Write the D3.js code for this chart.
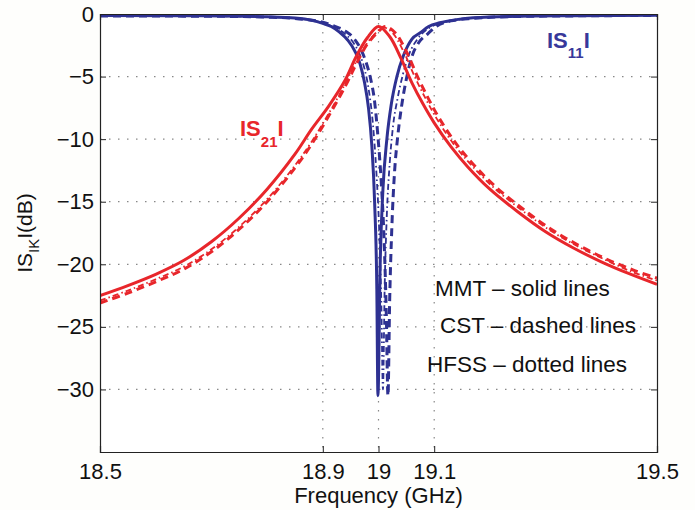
<!DOCTYPE html>
<html>
<head>
<meta charset="utf-8">
<script src="https://cdn.jsdelivr.net/npm/d3@7"></script>
<style>
body { margin: 0; background: #fefefc; }
svg text { font-family: "Liberation Sans", Arial, Helvetica, sans-serif; fill: #111; }
</style>
</head>
<body>
<div class="chart"></div>
<script>
// tick values
const xTicks = [18.5, 18.9, 19, 19.1, 19.5];
const yTicks = [0, -5, -10, -15, -20, -25, -30];

// |S21| curves (GHz, dB)
const s21MmtF = [18.5, 18.55, 18.6, 18.65, 18.7, 18.75, 18.8, 18.85, 18.88, 18.91, 18.94, 18.96, 18.98, 19.0, 19.02, 19.04, 19.06, 19.08, 19.1, 19.13, 19.16, 19.2, 19.25, 19.3, 19.35, 19.4, 19.45, 19.5];
const s21MmtDb = [-22.5, -21.7, -20.8, -19.7, -18.2, -16.3, -14.0, -11.2, -9.2, -7.4, -5.3, -3.4, -1.9, -1.0, -1.8, -3.5, -5.5, -7.2, -8.7, -10.6, -12.2, -14.0, -15.8, -17.4, -18.7, -19.8, -20.75, -21.6];

const s21CstF = [18.5, 18.55, 18.6, 18.65, 18.7, 18.75, 18.8, 18.85, 18.88, 18.91, 18.94, 18.96, 18.98, 19.0, 19.012, 19.03, 19.05, 19.07, 19.09, 19.11, 19.14, 19.17, 19.21, 19.26, 19.31, 19.36, 19.41, 19.46, 19.5];
const s21CstDb = [-23.1, -22.3, -21.4, -20.4, -19.0, -17.2, -15.0, -12.3, -10.4, -8.2, -5.8, -4.0, -2.4, -1.4, -1.0, -1.5, -3.0, -5.0, -6.8, -8.4, -10.4, -12.0, -13.8, -15.6, -17.2, -18.5, -19.6, -20.5, -21.1];

const s21HfssF = [18.5, 18.55, 18.6, 18.65, 18.7, 18.75, 18.8, 18.85, 18.88, 18.91, 18.94, 18.96, 18.98, 19.0, 19.008, 19.025, 19.045, 19.065, 19.085, 19.105, 19.135, 19.165, 19.205, 19.255, 19.305, 19.355, 19.405, 19.455, 19.5];
const s21HfssDb = [-22.9, -22.1, -21.2, -20.2, -18.8, -17.0, -14.8, -12.1, -10.2, -8.0, -5.6, -3.8, -2.3, -1.3, -1.05, -1.5, -3.0, -5.0, -6.8, -8.4, -10.4, -12.0, -13.8, -15.6, -17.2, -18.5, -19.6, -20.6, -21.3];

// |S11| curves (GHz, dB)
const s11MmtF = [18.5, 18.65, 18.75, 18.8, 18.85, 18.88, 18.9, 18.915, 18.93, 18.945, 18.958, 18.967, 18.975, 18.982, 18.988, 18.993, 18.997, 18.999, 19.003, 19.008, 19.015, 19.023, 19.033, 19.045, 19.06, 19.075, 19.09, 19.11, 19.14, 19.17, 19.25, 19.35, 19.5];
const s11MmtDb = [-0.12, -0.14, -0.18, -0.22, -0.32, -0.5, -0.75, -1.0, -1.45, -2.1, -3.0, -4.0, -5.5, -7.5, -10.5, -15, -22, -30.5, -20, -14, -10, -7.2, -5, -3.3, -2.0, -1.5, -1.0, -0.7, -0.45, -0.3, -0.18, -0.13, -0.1];

const s11CstF = [18.5, 18.65, 18.75, 18.8, 18.85, 18.88, 18.9, 18.92, 18.94, 18.955, 18.968, 18.978, 18.986, 18.993, 18.999, 19.005, 19.01, 19.014, 19.017, 19.02, 19.024, 19.029, 19.034, 19.041, 19.05, 19.06, 19.072, 19.088, 19.105, 19.13, 19.17, 19.25, 19.35, 19.5];
const s11CstDb = [-0.15, -0.17, -0.2, -0.25, -0.35, -0.5, -0.65, -0.95, -1.35, -1.9, -2.8, -3.9, -5.2, -7, -9.8, -13.5, -18, -24, -30.5, -23, -17, -12.5, -10, -7.5, -5.2, -3.4, -2.3, -1.6, -0.95, -0.55, -0.35, -0.2, -0.15, -0.12];

const s11HfssF = [18.5, 18.65, 18.75, 18.8, 18.85, 18.88, 18.9, 18.92, 18.94, 18.955, 18.966, 18.975, 18.983, 18.99, 18.996, 19.001, 19.005, 19.008, 19.011, 19.015, 19.02, 19.026, 19.034, 19.044, 19.056, 19.07, 19.085, 19.1, 19.13, 19.17, 19.25, 19.35, 19.5];
const s11HfssDb = [-0.14, -0.16, -0.19, -0.24, -0.33, -0.5, -0.7, -1.05, -1.6, -2.3, -3.2, -4.4, -6.2, -8.8, -12.5, -17, -23, -30, -22, -16, -12, -9, -6.8, -4.8, -3.1, -2.0, -1.3, -0.9, -0.55, -0.33, -0.19, -0.14, -0.11];

const red = '#e8262b';
const blue = '#2e3192';

const margin = {top: 14, right: 38, bottom: 58, left: 100};
const width = 695 - margin.left - margin.right;
const height = 510 - margin.top - margin.bottom;

let svg = d3.select('.chart')
    .append('svg')
        .attr('width', 695)
        .attr('height', 510)
    .append('g')
        .attr('transform', 'translate(' + margin.left + ',' + margin.top + ')');

let xScale = d3.scaleLinear().domain([18.5, 19.5]).range([0, width]);
let yScale = d3.scaleLinear().domain([-35, 0]).range([height, 0]);

svg.append('rect')
    .attr('width', width)
    .attr('height', height)
    .attr('fill', '#fff');

// dotted grid
svg.append('g')
    .selectAll('line')
    .data(xTicks.slice(1, -1))
    .join('line')
    .attr('x1', d => xScale(d)).attr('x2', d => xScale(d))
    .attr('y1', 0).attr('y2', height)
    .attr('stroke', '#888').attr('stroke-width', 1.2)
    .attr('stroke-dasharray', '1.5,7.5');

svg.append('g')
    .selectAll('line')
    .data(yTicks.slice(1))
    .join('line')
    .attr('x1', 0).attr('x2', width)
    .attr('y1', d => yScale(d)).attr('y2', d => yScale(d))
    .attr('stroke', '#888').attr('stroke-width', 1.2)
    .attr('stroke-dasharray', '1.5,7.5');

svg.append('clipPath').attr('id', 'clip')
    .append('rect').attr('width', width).attr('height', height);

let sharpLine = d3.line()
    .x(d => xScale(d[0]))
    .y(d => yScale(d[1]))
    .curve(d3.curveMonotoneX);

let smoothLine = d3.line()
    .x(d => xScale(d[0]))
    .y(d => yScale(d[1]))
    .curve(d3.curveCatmullRom.alpha(0.5));

const series = [
    {f: s11HfssF, db: s11HfssDb, color: blue, dash: '6,3,1.5,3', w: 1.8, line: sharpLine},
    {f: s11CstF, db: s11CstDb, color: blue, dash: '8,5', w: 3, line: sharpLine},
    {f: s11MmtF, db: s11MmtDb, color: blue, dash: null, w: 3, line: sharpLine},
    {f: s21HfssF, db: s21HfssDb, color: red, dash: '6,3,1.5,3', w: 1.8, line: smoothLine},
    {f: s21CstF, db: s21CstDb, color: red, dash: '8,5', w: 3, line: smoothLine},
    {f: s21MmtF, db: s21MmtDb, color: red, dash: null, w: 3, line: smoothLine}
];

let plot = svg.append('g').attr('clip-path', 'url(#clip)');
series.forEach(s => {
    plot.append('path')
        .datum(s.f.map((f, i) => [f, s.db[i]]))
        .attr('fill', 'none')
        .attr('stroke', s.color)
        .attr('stroke-width', s.w)
        .attr('stroke-dasharray', s.dash)
        .attr('d', s.line);
});

// axes, ticks pointing in
let xAxis = g => g
    .attr('transform', `translate(0, ${height})`)
    .call(d3.axisBottom(xScale).tickValues(xTicks).tickFormat(d => d).tickSize(-6).tickPadding(11));

let yAxis = g => g
    .call(d3.axisLeft(yScale).tickValues(yTicks).tickFormat(d => d < 0 ? '\u2212' + (-d) : d).tickSize(-6).tickPadding(6));

svg.append('g').call(xAxis);
svg.append('g').call(yAxis);
svg.append('g').call(d3.axisTop(xScale).tickValues(xTicks).tickFormat('').tickSize(-6));
svg.append('g').attr('transform', `translate(${width},0)`)
    .call(d3.axisRight(yScale).tickValues(yTicks).tickFormat('').tickSize(-6));

svg.selectAll('.domain').attr('stroke', '#222').attr('stroke-width', 1.2);
svg.selectAll('.tick line').attr('stroke', '#222');
svg.selectAll('.tick text').attr('font-size', 22).attr('fill', '#111')
    .style('font-family', '"Liberation Sans", Arial, sans-serif');

// axis titles
svg.append('text')
    .attr('x', xScale(19)).attr('y', height + 51)
    .attr('text-anchor', 'middle').attr('font-size', 22)
    .text('Frequency (GHz)');

let yt = svg.append('text')
    .attr('transform', `translate(${32 - margin.left}, ${height / 2}) rotate(-90)`)
    .attr('text-anchor', 'middle').attr('font-size', 21);
yt.append('tspan').text('IS');
yt.append('tspan').attr('font-size', 15).attr('dy', 7).text('IK');
yt.append('tspan').attr('dy', -7).text('I(dB)');

// curve labels
let l21 = svg.append('text')
    .attr('x', 240 - margin.left).attr('y', 136 - margin.top)
    .attr('font-size', 22).attr('font-weight', 'bold').style('fill', red);
l21.append('tspan').text('IS');
l21.append('tspan').attr('font-size', 15).attr('dy', 11).text('21');
l21.append('tspan').attr('dy', -11).text('I');

let l11 = svg.append('text')
    .attr('x', 547 - margin.left).attr('y', 48 - margin.top)
    .attr('font-size', 22).attr('font-weight', 'bold').style('fill', '#38389a');
l11.append('tspan').text('IS');
l11.append('tspan').attr('font-size', 15).attr('dy', 10).text('11');
l11.append('tspan').attr('dy', -10).text('I');

// method notes
const notes = ['MMT \u2013 solid lines', 'CST \u2013 dashed lines', 'HFSS \u2013 dotted lines'];
const noteX = [435, 440, 427];
const noteY = [296, 333, 372];
svg.selectAll('.note')
    .data(notes)
    .join('text')
    .attr('class', 'note')
    .attr('x', (d, i) => noteX[i] - margin.left)
    .attr('y', (d, i) => noteY[i] - margin.top)
    .attr('font-size', 22.5)
    .text(d => d);
</script>
</body>
</html>
